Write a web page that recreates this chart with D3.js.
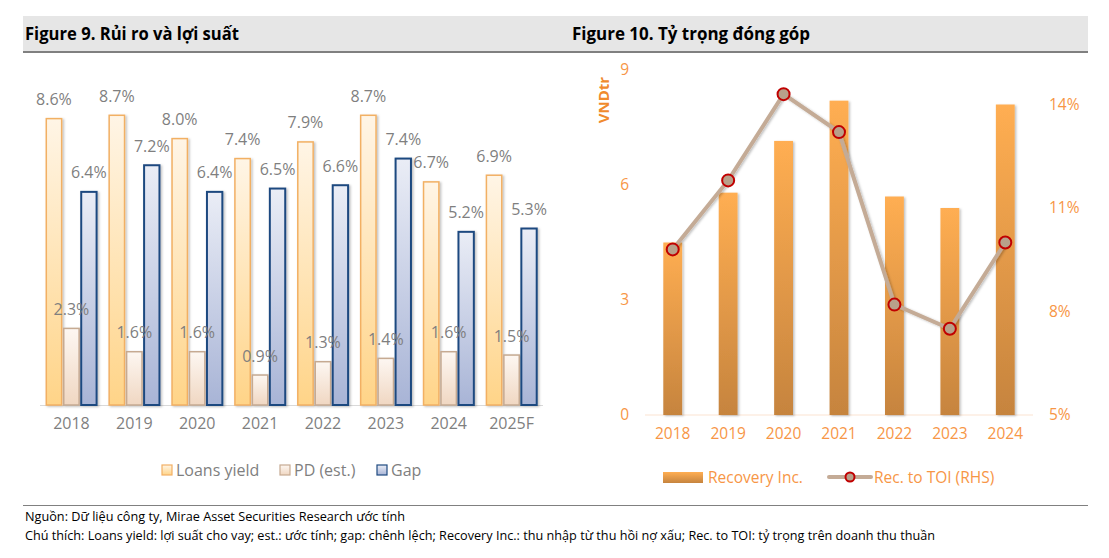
<!DOCTYPE html>
<html>
<head>
<meta charset="utf-8">
<script src="https://cdn.jsdelivr.net/npm/d3@7"></script>
<style>
  body { margin: 0; background: #fff; }
  text { font-family: 'Open Sans', 'Noto Sans', sans-serif; }
</style>
</head>
<body>
<div id="chart"></div>
<script>
// data for figure 9
const years9 = ['2018', '2019', '2020', '2021', '2022', '2023', '2024', '2025F']
const series9 = ['Loans yield', 'PD (est.)', 'Gap']
const loansYield = [8.6, 8.7, 8.0, 7.4, 7.9, 8.7, 6.7, 6.9]
const pdEst = [2.3, 1.6, 1.6, 0.9, 1.3, 1.4, 1.6, 1.5]
const gapVals = [6.4, 7.2, 6.4, 6.5, 6.6, 7.4, 5.2, 5.3]

// data for figure 10
const years10 = ['2018', '2019', '2020', '2021', '2022', '2023', '2024']
const recoveryInc = [4.5, 5.8, 7.15, 8.2, 5.7, 5.4, 8.1]
const recToToi = [9.8, 11.8, 14.3, 13.2, 8.2, 7.5, 10.0]
const leftTicks10 = [0, 3, 6, 9]
const rightTicks10 = [5, 8, 11, 14]

const W = 1109, H = 558

const svg = d3.select('#chart')
  .append('svg')
  .attr('width', W)
  .attr('height', H)

const defs = svg.append('defs')

function grad(id, top, bottom) {
  const g = defs.append('linearGradient').attr('id', id)
    .attr('x1', 0).attr('y1', 0).attr('x2', 0).attr('y2', 1)
  g.append('stop').attr('offset', '0%').attr('stop-color', top)
  g.append('stop').attr('offset', '100%').attr('stop-color', bottom)
}
grad('gLoans', '#fff5e6', '#ffd488')
grad('gPd', '#fdf7f2', '#f0d7c2')
grad('gGap', '#eaedf6', '#a8b4d6')
grad('gRec', '#ffae52', '#c6843e')

const shadow = defs.append('filter').attr('id', 'shadow')
  .attr('x', '-30%').attr('y', '-10%').attr('width', '160%').attr('height', '120%')
shadow.append('feDropShadow').attr('dx', 1.5).attr('dy', 1).attr('stdDeviation', 1.2)
  .attr('flood-color', '#000').attr('flood-opacity', 0.25)

// title band
svg.append('rect').attr('x', 23).attr('y', 16).attr('width', 1065).attr('height', 35).attr('fill', '#e6e6e6')
svg.append('rect').attr('x', 23).attr('y', 51).attr('width', 1065).attr('height', 2).attr('fill', '#808080')

svg.append('text').attr('x', 25).attr('y', 40)
  .attr('font-size', 17).attr('font-weight', 'bold').attr('fill', '#000')
  .attr('textLength', 214).attr('lengthAdjust', 'spacingAndGlyphs')
  .text('Figure 9. Rủi ro và lợi suất')

svg.append('text').attr('x', 572).attr('y', 40)
  .attr('font-size', 17).attr('font-weight', 'bold').attr('fill', '#000')
  .attr('textLength', 238).attr('lengthAdjust', 'spacingAndGlyphs')
  .text('Figure 10. Tỷ trọng đóng góp')

// ---------- figure 9: grouped bars ----------
const x9 = d3.scaleBand()
  .domain(years9)
  .range([40, 543])
  .paddingInner(0.2)
  .paddingOuter(0.1)

const xs9 = d3.scaleBand()
  .domain(series9)
  .range([0, x9.bandwidth()])
  .paddingInner(0.12)

const y9 = d3.scaleLinear()
  .domain([0, 10])
  .range([405, 72])

const rows9 = years9.map((yr, i) => ({
  year: yr,
  vals: [
    { s: 'Loans yield', v: loansYield[i], fill: 'url(#gLoans)', stroke: '#f2b064', sw: 1.5 },
    { s: 'PD (est.)', v: pdEst[i], fill: 'url(#gPd)', stroke: '#c6aa92', sw: 1.5 },
    { s: 'Gap', v: gapVals[i], fill: 'url(#gGap)', stroke: '#1f4a80', sw: 2 }
  ]
}))

svg.append('line')
  .attr('x1', 40).attr('x2', 543).attr('y1', 405.5).attr('y2', 405.5)
  .attr('stroke', '#d9d9d9').attr('stroke-width', 1)

const grp9 = svg.selectAll('.grp9')
  .data(rows9)
  .enter()
  .append('g')
  .attr('class', 'grp9')
  .attr('transform', d => `translate(${x9(d.year)},0)`)

grp9.selectAll('rect')
  .data(d => d.vals)
  .enter()
  .append('rect')
  .attr('x', d => xs9(d.s))
  .attr('width', xs9.bandwidth())
  .attr('y', d => y9(d.v))
  .attr('height', d => y9(0) - y9(d.v))
  .attr('fill', d => d.fill)
  .attr('stroke', d => d.stroke)
  .attr('stroke-width', d => d.sw)
  .attr('filter', 'url(#shadow)')

grp9.selectAll('.lbl')
  .data(d => d.vals)
  .enter()
  .append('text')
  .attr('class', 'lbl')
  .attr('x', d => xs9(d.s) + xs9.bandwidth() / 2)
  .attr('y', d => y9(d.v) - 13.5)
  .attr('text-anchor', 'middle')
  .attr('font-size', 16)
  .attr('fill', '#7f7f7f')
  .text(d => d.v.toFixed(1) + '%')

// x-axis labels
svg.append('g')
  .attr('transform', 'translate(0,405)')
  .call(d3.axisBottom(x9).tickSize(0).tickPadding(13))
  .call(g => g.select('.domain').remove())
  .selectAll('text')
  .attr('font-size', 16)
  .attr('fill', '#7f7f7f')
  .style('font-family', "'Open Sans', sans-serif")

// legend fig 9
const leg9 = [
  { s: 'Loans yield', x: 162, fill: 'url(#gLoans)', stroke: '#f2b064' },
  { s: 'PD (est.)', x: 280, fill: 'url(#gPd)', stroke: '#c6aa92' },
  { s: 'Gap', x: 377, fill: 'url(#gGap)', stroke: '#1f4a80' }
]
const legG9 = svg.selectAll('.leg9').data(leg9).enter().append('g').attr('class', 'leg9')
legG9.append('rect')
  .attr('x', d => d.x).attr('y', 465).attr('width', 10).attr('height', 10)
  .attr('fill', d => d.fill).attr('stroke', d => d.stroke).attr('stroke-width', 1.2)
legG9.append('text')
  .attr('x', d => d.x + 14).attr('y', 476)
  .attr('font-size', 16).attr('fill', '#7f7f7f')
  .text(d => d.s)

// ---------- figure 10: bars + line ----------
const x10 = d3.scaleBand()
  .domain(years10)
  .range([645, 1033])
  .paddingInner(0.66)
  .paddingOuter(0.33)

const yL = d3.scaleLinear().domain([0, 9]).range([415, 70])
const yR = d3.scaleLinear().domain([5, 15]).range([415, 70])

const orange = '#f79646'

svg.append('line')
  .attr('x1', 645).attr('x2', 1033).attr('y1', 415).attr('y2', 415)
  .attr('stroke', '#fce4d2').attr('stroke-width', 1.2)

svg.selectAll('.rec')
  .data(years10)
  .enter()
  .append('rect')
  .attr('class', 'rec')
  .attr('x', d => x10(d))
  .attr('width', x10.bandwidth())
  .attr('y', (d, i) => yL(recoveryInc[i]))
  .attr('height', (d, i) => yL(0) - yL(recoveryInc[i]))
  .attr('fill', 'url(#gRec)')
  .attr('filter', 'url(#shadow)')

// left axis
svg.append('g')
  .attr('transform', 'translate(629,0)')
  .call(d3.axisLeft(yL).tickValues(leftTicks10).tickSize(0).tickPadding(0))
  .call(g => g.select('.domain').remove())
  .selectAll('text')
  .attr('font-size', 15.5).attr('fill', orange)
  .style('font-family', "'Open Sans', sans-serif")

// right axis
svg.append('g')
  .attr('transform', 'translate(1049,0)')
  .call(d3.axisRight(yR).tickValues(rightTicks10).tickSize(0).tickPadding(0).tickFormat(d => d + '%'))
  .call(g => g.select('.domain').remove())
  .selectAll('text')
  .attr('font-size', 15.5).attr('fill', orange)
  .style('font-family', "'Open Sans', sans-serif")

svg.append('text')
  .attr('transform', 'translate(609,100) rotate(-90)')
  .attr('text-anchor', 'middle')
  .attr('font-size', 15).attr('font-weight', 'bold').attr('fill', '#f08a2e')
  .text('VNDtr')

// x axis fig 10
svg.append('g')
  .attr('transform', 'translate(0,415)')
  .call(d3.axisBottom(x10).tickSize(0).tickPadding(13))
  .call(g => g.select('.domain').remove())
  .selectAll('text')
  .attr('font-size', 15.5).attr('fill', orange)
  .style('font-family', "'Open Sans', sans-serif")

// line on right scale
const line10 = d3.line()
  .x((d, i) => x10(years10[i]) + x10.bandwidth() / 2)
  .y(d => yR(d))

svg.append('path')
  .datum(recToToi)
  .attr('d', line10)
  .attr('fill', 'none')
  .attr('stroke', '#c4ab96')
  .attr('stroke-width', 4)
  .attr('filter', 'url(#shadow)')

svg.selectAll('.mk')
  .data(recToToi)
  .enter()
  .append('circle')
  .attr('class', 'mk')
  .attr('cx', (d, i) => x10(years10[i]) + x10.bandwidth() / 2)
  .attr('cy', d => yR(d))
  .attr('r', 6)
  .attr('fill', '#b8a08a')
  .attr('stroke', '#c00000')
  .attr('stroke-width', 2)

// legend fig 10
svg.append('rect').attr('x', 663).attr('y', 472).attr('width', 40).attr('height', 11).attr('fill', 'url(#gRec)')
svg.append('text').attr('x', 708).attr('y', 482.5)
  .attr('font-size', 15.5).attr('fill', orange).text('Recovery Inc.')
svg.append('line').attr('x1', 829).attr('x2', 871).attr('y1', 477).attr('y2', 477)
  .attr('stroke', '#c4ab96').attr('stroke-width', 4).attr('stroke-linecap', 'round')
svg.append('circle').attr('cx', 850).attr('cy', 477).attr('r', 4.5)
  .attr('fill', '#b8a08a').attr('stroke', '#c00000').attr('stroke-width', 2)
svg.append('text').attr('x', 874).attr('y', 482.5)
  .attr('font-size', 15.5).attr('fill', orange).text('Rec. to TOI (RHS)')

// footer
svg.append('line').attr('x1', 23).attr('x2', 1088).attr('y1', 505.5).attr('y2', 505.5)
  .attr('stroke', '#808080').attr('stroke-width', 1)
svg.append('text').attr('x', 25).attr('y', 521)
  .attr('font-size', 12).attr('fill', '#000')
  .attr('textLength', 380).attr('lengthAdjust', 'spacingAndGlyphs')
  .text('Nguồn: Dữ liệu công ty, Mirae Asset Securities Research ước tính')
svg.append('text').attr('x', 25).attr('y', 540)
  .attr('font-size', 12).attr('fill', '#000')
  .attr('textLength', 910).attr('lengthAdjust', 'spacingAndGlyphs')
  .text('Chú thích: Loans yield: lợi suất cho vay; est.: ước tính; gap: chênh lệch; Recovery Inc.: thu nhập từ thu hồi nợ xấu; Rec. to TOI: tỷ trọng trên doanh thu thuần')
</script>
</body>
</html>
